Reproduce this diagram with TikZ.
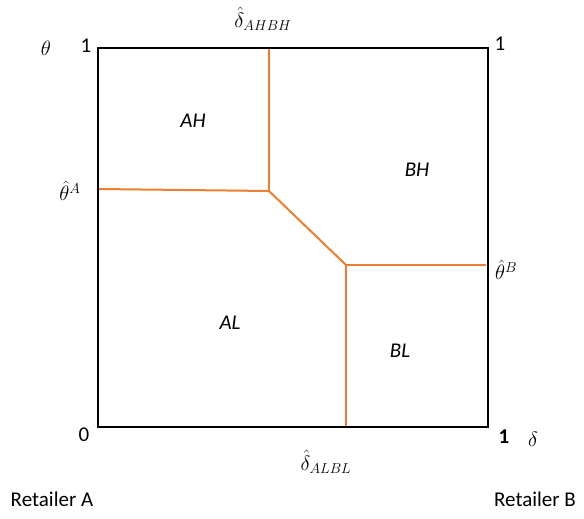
\documentclass[tikz,border=0pt]{standalone}
\usepackage{fontspec}
\setmainfont{Carlito}
\definecolor{offorange}{HTML}{ED7D31}
\tikzset{
  lbl/.style={inner sep=0pt, font=\fontsize{21}{24}\selectfont},
  reg/.style={inner sep=0pt, font=\fontsize{21}{24}\selectfont\itshape},
  mlbl/.style={inner sep=0pt, font=\fontsize{22}{25}\selectfont},
  frame/.style={draw=black, line width=2pt},
  bound/.style={draw=offorange, line width=2pt}
}
\begin{document}
\begin{tikzpicture}[x=1pt,y=-1pt]
\useasboundingbox (0,0) rectangle (584,519);
% corners
\coordinate (tl) at (98,48);
\coordinate (tr) at (488,48);
\coordinate (br) at (488,427);
\coordinate (bl) at (98,427);
% boundary points
\coordinate (ahbhTop) at (269,48);
\coordinate (k1) at (269,191);
\coordinate (aLeft) at (99,189);
\coordinate (k2) at (346,265);
\coordinate (bRight) at (486,265);
\coordinate (albl) at (346,427);
\draw[bound] (ahbhTop) -- (k1);
\draw[bound] (aLeft) -- (k1);
\draw[bound] (k1) -- (k2);
\draw[bound] (k2) -- (bRight);
\draw[bound] (k2) -- (albl);
\draw[frame] (tl) -- (tr) -- (br) -- (bl) -- cycle;
% labels
\node[mlbl] (theta) at (46,48) {$\theta$};
\node[lbl] (one1) at (86,46) {1};
\node[lbl] (one2) at (500,44) {1};
\node[mlbl] (dAHBH) at (263,19) {$\hat{\delta}_{AHBH}$};
\node[mlbl] (thA) at (70,191) {$\hat{\theta}^{A}$};
\node[mlbl] (thB) at (506,270) {$\hat{\theta}^{B}$};
\node[reg] (AH) at (193,121) {AH};
\node[reg] (BH) at (417,170) {BH};
\node[reg] (AL) at (230,323) {AL};
\node[reg] (BL) at (400,351) {BL};
\node[lbl] (zero) at (84,435) {0};
\node[lbl] (oneb) at (504,437) {\bfseries 1};
\node[mlbl] (delta) at (533,439) {$\delta$};
\node[mlbl] (dALBL) at (326,462) {$\hat{\delta}_{ALBL}$};
\node[lbl] (retA) at (52,499) {Retailer A};
\node[lbl] (retB) at (535,499) {Retailer B};
\end{tikzpicture}
\end{document}
